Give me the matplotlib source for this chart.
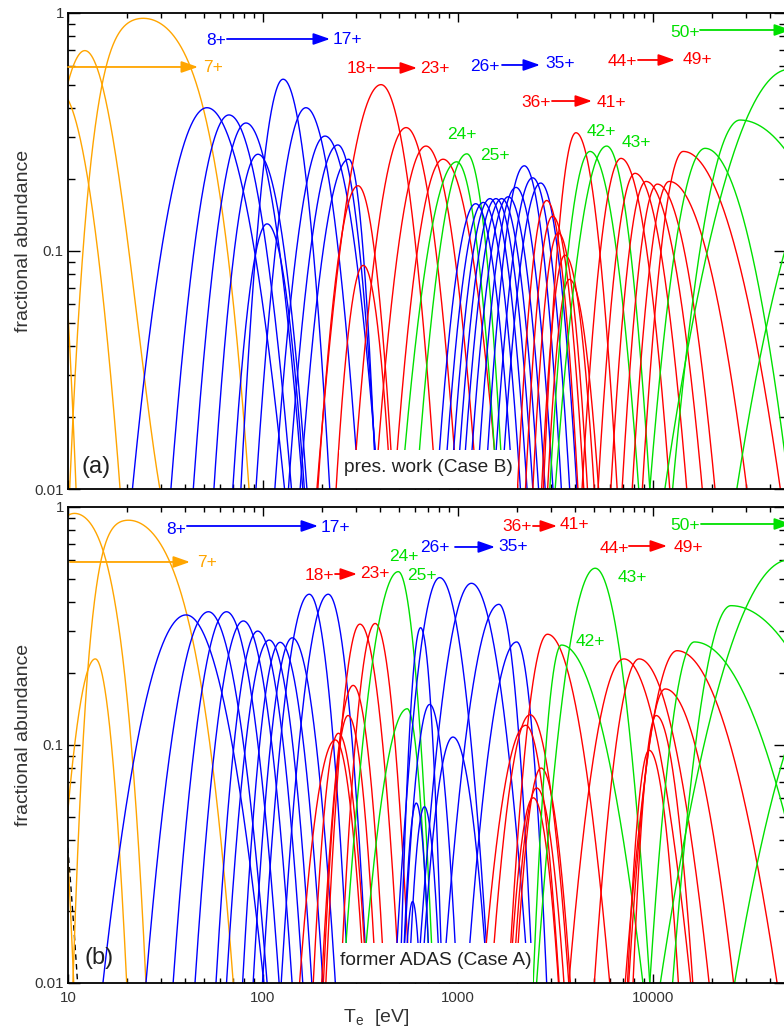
import numpy as np
import matplotlib
matplotlib.use("Agg")
import matplotlib.pyplot as plt
from matplotlib import font_manager
from matplotlib.ticker import FixedLocator, FixedFormatter, LogLocator, NullFormatter, FuncFormatter
from matplotlib.patches import Rectangle

_names = {f.name for f in font_manager.fontManager.ttflist}
FONT = "Liberation Sans Narrow" if "Liberation Sans Narrow" in _names else "Liberation Sans"
NARROW = FONT == "Liberation Sans Narrow"
plt.rcParams["font.family"] = [FONT, "DejaVu Sans"]
plt.rcParams["mathtext.fontset"] = "custom"
plt.rcParams["mathtext.rm"] = FONT
plt.rcParams["mathtext.it"] = FONT

COLORS = {"o": "#FFA500", "b": "#0000FF", "r": "#FF0000", "g": "#00E000", "k": "#000000"}
TXT = "#333333"

# ---------------- data: panel (a) present work (Case B) ----------------
B_color = "oooo" + "b" * 10 + "r" * 6 + "gg" + "b" * 10 + "r" * 6 + "gg" + "r" * 6 + "gggg"
B_Tpeak = [7.5, 9.0, 12.2, 24.3,
           51.6, 66.9, 81.8, 94.2, 104.9, 126.8, 166, 208, 242, 275,
           307, 327, 403, 542, 685, 838,
           985, 1110,
           1233, 1349, 1459, 1566, 1675, 1812, 1983, 2188, 2414, 2654,
           2851, 3055, 3266, 3537, 3725, 4027,
           4753, 5786,
           6855, 8091, 9209, 10520, 12110, 14290,
           18500, 27930, 50000, 100000]
B_fpeak = [0.50, 0.47, 0.695, 0.95,
           0.40, 0.373, 0.345, 0.255, 0.130, 0.527, 0.40, 0.304, 0.279, 0.243,
           0.188, 0.087, 0.50, 0.33, 0.276, 0.243,
           0.237, 0.256,
           0.158, 0.160, 0.166, 0.166, 0.166, 0.169, 0.185, 0.228, 0.203, 0.193,
           0.163, 0.140, 0.119, 0.096, 0.076, 0.314,
           0.262, 0.276,
           0.245, 0.212, 0.196, 0.191, 0.196, 0.262,
           0.270, 0.355, 0.58, 0.30]
# temperatures where each curve falls to 0.01 (low side / high side)
B_Tlow = [3.0, 4.0, 5.0, 10.2,
          21.4, 33.7, 43.9, 56, 70, 77, 92, 115, 135, 155,
          191, 237, 189, 290, 376, 471,
          513, 612,
          778, 851, 920, 988, 1057, 1143, 1250, 1380, 1523, 1675,
          2018, 2218, 2420, 2684, 2881, 2740,
          2955, 3150,
          4325, 5226, 6078, 6943, 7822, 8814,
          9630, 12600, 11500, 26900]
B_Thigh = [11.0, 18.5, 29.6, 84.8,
           129, 140, 160, 168, 163, 220, 310, 390, 385, 380,
           466, 452, 770, 990, 1250, 1600,
           1583, 1700,
           1910, 2090, 2260, 2420, 2590, 2800, 3070, 3390, 3740, 4070,
           4122, 4417, 4613, 4996, 5262, 6550,
           8450, 9630,
           12190, 14900, 17900, 20800, 30300, 45000,
           50000, 183000, 200000, 300000]
B_shape = {2: (-0.5, -0.5), 3: (0.8, 0.6)}

# ---------------- data: panel (b) former ADAS (Case A) ----------------
A_color = "k" + "oooo" + "b" * 10 + "r" * 6 + "gg" + "b" * 10 + "r" * 6 + "gg" + "r" * 6 + "gggg"
A_Tpeak = [6.0, 7.0, 10.8, 13.8, 20.4,
           40.3, 52.5, 65.0, 79.3, 93.9, 107.6, 122.4, 141.3, 172.7, 216,
           235, 243.7, 273, 290, 314, 376,
           494, 549,
           585, 611, 643, 673, 716, 806, 942, 1172, 1622, 2000,
           2225, 2343, 2430, 2530, 2668, 2877,
           3391, 5054,
           7092, 8487, 9556, 10380, 11550, 13280,
           16300, 25100, 50000, 100000]
A_fpeak = [0.50, 0.60, 0.94, 0.23, 0.88,
           0.352, 0.363, 0.363, 0.332, 0.301, 0.276, 0.270, 0.282, 0.43, 0.43,
           0.105, 0.112, 0.133, 0.178, 0.322, 0.324,
           0.535, 0.142,
           0.022, 0.057, 0.311, 0.055, 0.148, 0.505, 0.108, 0.478, 0.390, 0.271,
           0.121, 0.134, 0.060, 0.066, 0.080, 0.292,
           0.263, 0.553,
           0.230, 0.230, 0.095, 0.133, 0.172, 0.249,
           0.271, 0.385, 0.60, 0.25]
A_Tlow = [3.0, 3.0, 5.0, 8.6, 10.6,
          15.1, 25.1, 34.6, 44.8, 57.4, 65, 78.6, 89, 99.4, 124,
          154, 181, 204, 200, 210, 250,
          258, 325,
          535, 520, 505, 560, 520, 474, 650, 620, 838, 1110,
          1340, 1478, 1843, 1919, 1976, 1815,
          2430, 2530,
          3700, 5000, 7400, 7900, 7500, 7200,
          9630, 12600, 10900, 26200]
A_Thigh = [11.2, 10.7, 25.1, 20.0, 70.4,
           101, 105, 121, 141, 160, 178, 203, 235, 274, 342,
           330, 340, 380, 420, 500, 565,
           747, 718,
           640, 718, 830, 810, 990, 1440, 1420, 2300, 2416, 2850,
           3300, 3700, 3277, 3495, 3769, 6000,
           8880, 9630,
           15600, 19400, 13500, 16000, 25900, 43300,
           73000, 189000, 200000, 300000]
A_shape = {2: (0.6, 0.6), 4: (0.85, 0.5)}

# ---------------- annotation layout (axes fractions) ----------------
B_labels = [("8+", 0.2061, 0.9412, "b"), ("17+", 0.3886, 0.9433, "b"),
            ("7+", 0.2019, 0.8845, "o"),
            ("18+", 0.4081, 0.8824, "r"), ("23+", 0.5111, 0.8824, "r"),
            ("26+", 0.5808, 0.8866, "b"), ("35+", 0.6852, 0.8929, "b"),
            ("36+", 0.6518, 0.8130, "r"), ("41+", 0.7563, 0.8130, "r"),
            ("44+", 0.7716, 0.8971, "r"), ("49+", 0.8760, 0.9013, "r"),
            ("50+", 0.8593, 0.9580, "g"),
            ("24+", 0.5487, 0.7437, "g"), ("25+", 0.5947, 0.6996, "g"),
            ("42+", 0.7423, 0.7521, "g"), ("43+", 0.7911, 0.7269, "g")]
B_arrows = [(0.2214, 0.3649, 0.9454, "b"), (0.0, 0.1811, 0.8866, "o"),
            (0.4318, 0.4861, 0.8845, "r"), (0.6045, 0.6574, 0.8908, "b"),
            (0.6741, 0.7298, 0.8151, "r"), (0.7939, 0.8454, 0.9013, "r"),
            (0.8802, 1.0070, 0.9643, "g")]
A_labels = [("8+", 0.1504, 0.9517, "b"), ("17+", 0.3719, 0.9559, "b"),
            ("7+", 0.1936, 0.8824, "o"),
            ("18+", 0.3496, 0.8571, "r"), ("23+", 0.4276, 0.8613, "r"),
            ("24+", 0.4680, 0.8950, "g"), ("25+", 0.4930, 0.8571, "g"),
            ("26+", 0.5111, 0.9139, "b"), ("35+", 0.6198, 0.9160, "b"),
            ("36+", 0.6253, 0.9580, "r"), ("41+", 0.7047, 0.9622, "r"),
            ("42+", 0.7270, 0.7164, "g"), ("43+", 0.7855, 0.8529, "g"),
            ("44+", 0.7604, 0.9118, "r"), ("49+", 0.8635, 0.9139, "r"),
            ("50+", 0.8593, 0.9601, "g")]
A_arrows = [(0.1657, 0.3482, 0.9601, "b"), (0.0028, 0.1699, 0.8845, "o"),
            (0.3719, 0.4025, 0.8592, "r"), (0.5390, 0.5947, 0.9160, "b"),
            (0.6476, 0.6811, 0.9601, "r"), (0.7813, 0.8343, 0.9181, "r"),
            (0.8816, 1.0070, 0.9643, "g")]

# font sizes (narrow font would allow taller glyphs for the same width)
FS_ION = 14.5 if NARROW else 12.5
FS_TICK = 12.5 if NARROW else 10.8
FS_LABEL = 16.5 if NARROW else 14
FS_TAG = 20 if NARROW else 17
FS_BOX = 16.5 if NARROW else 13.8


def abundance(T, Tp, A, Tlo, Thi, mL=0.0, mR=0.0):
    d = np.log10(T / Tp)
    dmax = np.where(d < 0, np.log10(Tp / Tlo), np.log10(Thi / Tp))
    m = np.where(d < 0, mL, mR)
    s = np.abs(d) / dmax
    D = np.log10(A / 0.01)
    drop = D * ((1 - m) * s ** 2 + m * s ** 4)
    y = A * 10.0 ** (-drop)
    y[s > 1.35] = np.nan
    return y


W, H = 784, 1034
fig = plt.figure(figsize=(W / 100, H / 100), dpi=100)
X0, X1 = 68, 786
XMAX = 10 ** (1 + (X1 - X0) / 195.0)
ax_top = fig.add_axes([X0 / W, 1 - 489 / H, (X1 - X0) / W, 476 / H])
ax_bot = fig.add_axes([X0 / W, 1 - 983 / H, (X1 - X0) / W, 476 / H])

T = np.logspace(0.5, 5.5, 6000)


def draw_panel(ax, colors, Tpk, fpk, Tlo, Thi, shape, labels, arrows, tag, box_txt, box, show_xlabels):
    for i, c in enumerate(colors):
        mL, mR = shape.get(i, (0.0, 0.0))
        y = abundance(T, Tpk[i], fpk[i], Tlo[i], Thi[i], mL, mR)
        ls = (0, (4, 3)) if c == "k" else "-"
        ax.plot(T, y, color=COLORS[c], lw=1.0, ls=ls, zorder=2)
    ax.set_xscale("log")
    ax.set_yscale("log")
    ax.set_xlim(10, XMAX)
    ax.set_ylim(0.01, 1)
    ax.yaxis.set_major_locator(FixedLocator([0.01, 0.1, 1]))
    ax.yaxis.set_major_formatter(FixedFormatter(["0.01", "0.1", "1"]))
    ax.yaxis.set_minor_locator(LogLocator(base=10, subs=np.arange(2, 10), numticks=20))
    ax.yaxis.set_minor_formatter(NullFormatter())
    ax.xaxis.set_major_locator(LogLocator(base=10, numticks=20))
    ax.xaxis.set_minor_locator(LogLocator(base=10, subs=np.arange(2, 10), numticks=20))
    ax.xaxis.set_minor_formatter(NullFormatter())
    if show_xlabels:
        ax.xaxis.set_major_formatter(FuncFormatter(lambda v, p: f"{v:g}"))
    else:
        ax.xaxis.set_major_formatter(NullFormatter())
    ax.tick_params(which="both", direction="in", top=True, right=True, colors="black",
                   labelcolor=TXT, labelsize=FS_TICK, width=1.0)
    ax.tick_params(axis="y", which="major", length=8.5, pad=3)
    ax.tick_params(axis="y", which="minor", length=5)
    ax.tick_params(axis="x", which="major", length=6.5, pad=6)
    ax.tick_params(axis="x", which="minor", length=3.6)
    for sp in ax.spines.values():
        sp.set_linewidth(1.3)
    for txt, fx, fy, c in labels:
        ax.text(fx, fy, txt, transform=ax.transAxes, color=COLORS[c], fontsize=FS_ION,
                ha="center", va="center", zorder=5)
    for x0, x1, fy, c in arrows:
        ax.annotate("", xy=(x1, fy), xytext=(x0, fy), xycoords="axes fraction",
                    textcoords="axes fraction", annotation_clip=False,
                    arrowprops=dict(arrowstyle="-|>,head_length=1.0,head_width=0.35",
                                    color=COLORS[c], lw=1.3, shrinkA=0, shrinkB=0,
                                    mutation_scale=10))
    ax.text(tag[1], tag[2], tag[0], transform=ax.transAxes, fontsize=FS_TAG, color="#222222",
            ha="center", va="center", zorder=5)
    bx0, bx1, by1 = box
    ax.add_patch(Rectangle((bx0, 0.0), bx1 - bx0, by1, transform=ax.transAxes,
                           facecolor="white", edgecolor="none", zorder=2.3))
    ax.text(box_txt[1], box_txt[2], box_txt[0], transform=ax.transAxes, fontsize=FS_BOX,
            color="#222222", ha="center", va="center", zorder=5)


draw_panel(ax_top, B_color, B_Tpeak, B_fpeak, B_Tlow, B_Thigh, B_shape, B_labels, B_arrows,
           ("(a)", 0.0390, 0.0462), ("pres. work (Case B)", 0.5014, 0.0462),
           (0.3774, 0.6253, 0.0819), False)
draw_panel(ax_bot, A_color, A_Tpeak, A_fpeak, A_Tlow, A_Thigh, A_shape, A_labels, A_arrows,
           ("(b)", 0.0432, 0.0525), ("former ADAS (Case A)", 0.5125, 0.0483),
           (0.3747, 0.6476, 0.0840), True)

fig.text(24 / W, 1 - 241 / H, "fractional abundance", rotation=90, ha="center", va="center",
         fontsize=FS_LABEL, color=TXT)
fig.text(24 / W, 1 - 735 / H, "fractional abundance", rotation=90, ha="center", va="center",
         fontsize=FS_LABEL, color=TXT)
fig.text(343 / W, 1 - 1018 / H, r"T$_\mathregular{e}$  [eV]", ha="left", va="center",
         fontsize=FS_LABEL, color=TXT)

fig.savefig("out.png", dpi=100)
